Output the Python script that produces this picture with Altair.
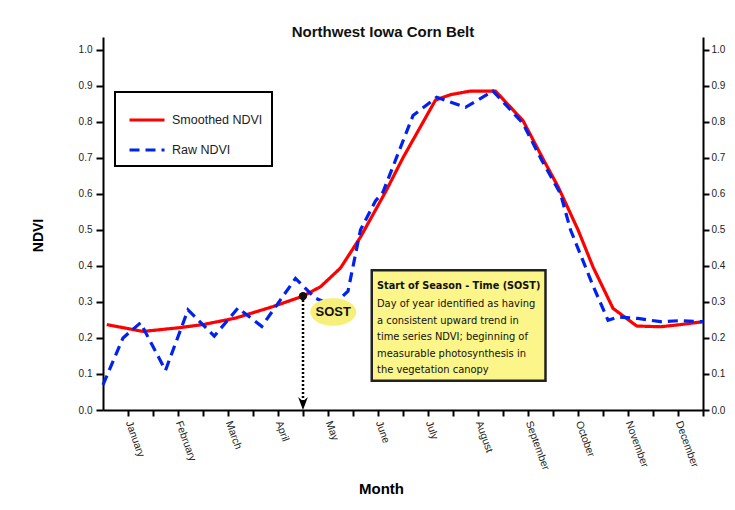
import json
import altair as alt
import pandas as pd

# ---------------- data ----------------
months = ["January", "February", "March", "April", "May", "June", "July",
          "August", "September", "October", "November", "December"]

# x in half-month steps (0 .. 24); month names sit on odd steps
smooth_t = [0.15, 1.6, 3.0, 4.0, 5.3, 6.8, 8.0, 8.7, 9.5, 10.3, 11.3, 12.0, 13.3,
            13.9, 14.7, 15.7, 16.8, 17.6, 18.2, 19.0, 19.6, 20.4, 21.35, 22.3, 23.1, 24.0]
smooth_v = [0.237, 0.218, 0.228, 0.237, 0.255, 0.287, 0.316, 0.342, 0.394, 0.48, 0.605,
            0.700, 0.86, 0.875, 0.885, 0.885, 0.803, 0.697, 0.62, 0.50, 0.397, 0.282,
            0.233, 0.231, 0.237, 0.245]

raw_t = [0.0, 0.8, 1.5, 2.5, 3.4, 4.45, 5.4, 6.35, 7.7, 8.5, 9.2, 9.8, 10.3, 10.9,
         11.2, 12.4, 13.35, 14.5, 15.6, 16.8, 17.55, 18.3, 18.7, 19.6, 20.2, 20.6,
         21.4, 22.3, 23.1, 24.0]
raw_v = [0.07, 0.20, 0.242, 0.11, 0.278, 0.205, 0.283, 0.232, 0.365, 0.31, 0.29, 0.33,
         0.50, 0.58, 0.605, 0.817, 0.868, 0.84, 0.885, 0.795, 0.693, 0.60, 0.50, 0.345,
         0.249, 0.258, 0.254, 0.245, 0.248, 0.245]

series_names = ["Smoothed NDVI", "Raw NDVI"]
series_colors = ["#ff0000", "#0022ee"]

sost_t = [8.0]
sost_v = [0.316]

note_title = "Start of Season - Time (SOST)"
note_lines = ["Day of year identified as having", "a consistent upward trend in",
              "time series NDVI; beginning of", "measurable photosynthesis in",
              "the vegetation canopy"]

# ---------------- tables ----------------
lines_df = pd.concat([
    pd.DataFrame({"t": smooth_t, "v": smooth_v, "series": series_names[0]}),
    pd.DataFrame({"t": raw_t, "v": raw_v, "series": series_names[1]}),
], ignore_index=True)
sost_df = pd.DataFrame({"t": sost_t, "v": sost_v, "v0": [0.0], "tip": [0.018]})
ell_df = pd.DataFrame({"t": [9.21], "v": [0.272], "label": ["SOST"]})
box_df = pd.DataFrame({"t": [10.75], "t2": [17.7], "v": [0.388], "v2": [0.081]})
note_df = pd.DataFrame({"t": [10.96], "v": [0.362], "v2": [0.311]})

FONT = "Liberation Sans"
NARROW = "Liberation Sans Narrow, Arial Narrow, DejaVu Sans Condensed, Liberation Sans"

x_scale = alt.Scale(domain=[0, 24], nice=False, zero=False)
y_scale = alt.Scale(domain=[0, 1.035], nice=False, zero=False)
yvals = [round(i * 0.1, 1) for i in range(11)]

month_js = json.dumps(months)
x_axis = alt.Axis(
    values=list(range(1, 25)),
    labelExpr=f"datum.value % 2 == 1 ? {month_js}[(datum.value - 1) / 2] : ''",
    labelAngle=70, labelAlign="left", labelBaseline="middle", labelPadding=5,
    labelFontSize=10.5, labelFont=FONT, labelColor="#222",
    tickSize=6, tickWidth=2, tickColor="black", domainColor="black", domainWidth=2,
    grid=False, title="Month", titleFont=FONT, titleFontSize=15, titleFontWeight="bold",
    titleX=278, titleY=78, titleBaseline="middle", titleAlign="center", labelFlush=False,
)
left_axis = alt.Axis(
    values=yvals, format=".1f", tickSize=7, tickWidth=2, tickColor="black",
    domainColor="black", domainWidth=2, grid=False, labelFontSize=10, labelFont=FONT,
    labelColor="#222", labelPadding=4, title="NDVI", titleFont=FONT, titleFontSize=14,
    titleFontWeight="bold", titleX=-58, titleY=198, titleAngle=-90, titleAlign="center",
    titleBaseline="bottom",
)
right_axis = alt.Axis(
    orient="right", values=yvals, format=".1f", tickSize=6, tickWidth=2, tickColor="black",
    domainColor="black", domainWidth=2, grid=False, labelFontSize=10, labelFont=FONT,
    labelColor="#222", labelPadding=2, title=None,
)

X = alt.X("t:Q", scale=x_scale, axis=x_axis)

lines = alt.Chart(lines_df).mark_line(strokeWidth=3.2).encode(
    x=X,
    y=alt.Y("v:Q", scale=y_scale, axis=left_axis),
    color=alt.Color("series:N", scale=alt.Scale(domain=series_names, range=series_colors),
                    legend=alt.Legend(orient="none", legendX=12, legendY=55, title=None,
                                      symbolType="stroke", symbolSize=1225,
                                      symbolStrokeWidth=3, labelFontSize=12.5, labelFont=FONT,
                                      labelColor="#222", padding=9, symbolOffset=4,
                                      labelOffset=6, rowPadding=4, strokeColor="black")),
    strokeDash=alt.StrokeDash("series:N",
                              scale=alt.Scale(domain=series_names, range=[[1, 0], [10, 6]]),
                              legend=alt.Legend(orient="none", legendX=12, legendY=55,
                                                title=None)),
    order="t:Q",
)

arrow = alt.Chart(sost_df).mark_rule(color="black", strokeWidth=2.5, strokeDash=[2, 2]).encode(
    x=X, y=alt.Y("v:Q", scale=y_scale, axis=None), y2="tip:Q")
arrow_head = alt.Chart(sost_df).mark_point(
    shape="M-0.75,-1 L0,1 L0.75,-1 L0,-0.35 Z", filled=True, color="black", size=170,
    opacity=1).encode(x=X, y=alt.Y("tip:Q", scale=y_scale, axis=None))
sost_pt = alt.Chart(sost_df).mark_point(
    shape="circle", filled=True, color="#111", size=70, opacity=1).encode(
    x=X, y=alt.Y("v:Q", scale=y_scale, axis=right_axis))

ellipse = alt.Chart(ell_df).mark_point(
    shape="M-1,0 A1,0.6,0,1,1,1,0 A1,0.6,0,1,1,-1,0 Z", filled=True, color="#f6f07a",
    size=2116, opacity=1).encode(x=X, y=alt.Y("v:Q", scale=y_scale, axis=None))
ell_text = alt.Chart(ell_df).mark_text(
    font=FONT, fontSize=13, fontWeight="bold", color="#111").encode(
    x=X, y=alt.Y("v:Q", scale=y_scale, axis=None), text="label:N")

box = alt.Chart(box_df).mark_rect(fill="#fbf58a", stroke="#222", strokeWidth=2.5).encode(
    x=X, x2="t2:Q", y=alt.Y("v:Q", scale=y_scale, axis=None), y2="v2:Q")
box_title = alt.Chart(note_df).mark_text(
    text=note_title, font=NARROW, fontSize=10.8, fontWeight="bold", color="#111",
    align="left", baseline="top").encode(x=X, y=alt.Y("v:Q", scale=y_scale, axis=None))
box_body = alt.Chart(note_df).mark_text(
    text=note_lines, font=NARROW, fontSize=11, color="#111", align="left",
    baseline="top", lineHeight=16.6).encode(x=X, y=alt.Y("v2:Q", scale=y_scale, axis=None))

chart = alt.layer(
    lines, arrow, arrow_head, sost_pt, ellipse, ell_text, box, box_title, box_body
).resolve_scale(y="independent").properties(
    width=600, height=373,
    autosize=alt.AutoSizeParams(type="none"),
    padding={"left": 95, "top": 29, "right": 24, "bottom": 92},
    background="white",
    title=alt.TitleParams("Northwest Iowa Corn Belt", font=FONT, fontSize=15,
                          fontWeight="bold", color="#111", dx=-20, offset=-15,
                          baseline="alphabetic"),
).configure_view(stroke=None).configure_legend(strokeWidth=2)

chart.save("out.html", embed_options={"renderer": "svg", "actions": False})
